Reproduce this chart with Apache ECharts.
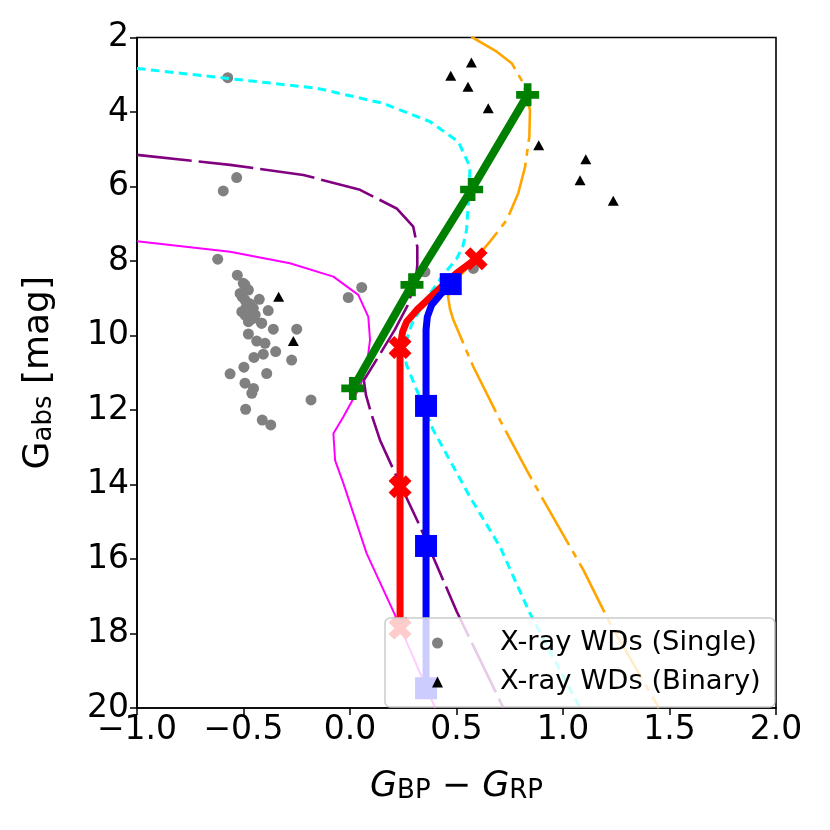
<!DOCTYPE html>
<html>
<head>
<meta charset="utf-8">
<script src="https://cdn.jsdelivr.net/npm/echarts@6/dist/echarts.min.js"></script>
<style>html,body{margin:0;padding:0;background:#fff;}#c{width:830px;height:830px;}</style>
</head>
<body>
<div id="c"></div>
<script>
// ---- data (colour index, absolute G magnitude) ----
const xTicks = [-1.0, -0.5, 0.0, 0.5, 1.0, 1.5, 2.0];
const yTicks = [2, 4, 6, 8, 10, 12, 14, 16, 18, 20];

const singleWDs = [
  [-0.574,3.08],[-0.532,5.76],[-0.595,6.12],
  [-0.621,7.95],[-0.529,8.38],[-0.501,8.60],[-0.482,8.76],[-0.506,8.96],[-0.426,9.03],
  [-0.508,9.36],[-0.384,9.33],[-0.461,9.36],[-0.469,9.58],[-0.415,9.67],[-0.360,9.83],
  [-0.250,9.83],[-0.477,9.96],[-0.438,10.15],[-0.399,10.21],[-0.349,10.43],[-0.407,10.50],
  [-0.451,10.59],[-0.274,10.66],[-0.498,10.85],[-0.563,11.03],[-0.391,11.02],[-0.493,11.28],
  [-0.453,11.42],[-0.461,11.55],[-0.183,11.73],[-0.490,11.98],[-0.412,12.27],[-0.372,12.40],
  [-0.008,8.98],[0.055,8.71],[0.352,8.29],[0.579,8.20],
  [-0.493,8.64],[-0.477,8.78],[-0.516,8.87],[-0.493,9.05],[-0.454,9.27],[-0.493,9.45],
  [-0.454,9.54],[-0.415,9.67],[-0.477,9.63],[-0.470,9.15],[-0.488,9.25],[-0.445,9.45]
];
const binaryWDs = [
  [0.570,2.67],[0.473,3.03],[0.554,3.32],[0.649,3.90],[0.886,4.89],
  [1.107,5.27],[1.080,5.83],[1.236,6.38],[-0.335,8.96],[-0.266,10.15]
];

const greenTrack = [[0.834,3.54],[0.571,6.08],[0.291,8.64],[0.013,11.42]];
const redTrack = [[0.592,7.94],[0.50,8.33],[0.423,8.73],[0.313,9.32],[0.266,9.63],[0.247,9.90],[0.235,10.32],[0.235,14.06],[0.235,17.86]];
const redMarks = [[0.592,7.94],[0.235,10.32],[0.235,14.06],[0.235,17.86]];
const blueTrack = [[0.473,8.62],[0.423,8.91],[0.383,9.18],[0.363,9.50],[0.357,9.85],[0.357,11.89],[0.357,15.65],[0.357,19.47]];
const blueMarks = [[0.473,8.62],[0.357,11.89],[0.357,15.65],[0.357,19.47]];

const magentaCurve = [[-1.0,7.47],[-0.563,7.75],[-0.282,8.06],[-0.078,8.42],[0.039,8.91],[0.086,9.50],[0.094,10.12],[0.078,10.84],[0.047,11.37],[-0.031,12.18],[-0.078,12.63],[-0.070,13.35],[-0.031,13.97],[0.078,15.85],[0.211,17.50],[0.40,20.0]];
const purpleCurve = [[-1.0,5.15],[-0.563,5.42],[-0.219,5.69],[0.047,6.09],[0.219,6.59],[0.297,7.08],[0.316,7.62],[0.316,8.10],[0.310,8.50],[0.270,9.20],[0.210,9.85],[0.130,10.60],[0.065,11.20],[0.075,11.60],[0.100,12.10],[0.141,12.81],[0.219,13.79],[0.329,15.13],[0.501,17.41],[0.72,20.0]];
const cyanCurve = [[-1.0,2.83],[-0.571,3.10],[-0.156,3.36],[0.157,3.77],[0.376,4.26],[0.509,4.80],[0.563,5.47],[0.560,6.09],[0.547,7.17],[0.530,7.60],[0.500,7.95],[0.440,8.35],[0.360,9.00],[0.290,9.70],[0.250,10.40],[0.266,10.80],[0.313,11.46],[0.391,12.54],[0.485,13.52],[0.563,14.33],[0.704,15.67],[0.845,17.46],[1.08,20.0]];
const orangeCurve = [[0.570,1.98],[0.689,2.38],[0.759,2.69],[0.814,3.23],[0.845,3.95],[0.842,4.66],[0.822,5.47],[0.790,6.18],[0.736,6.90],[0.657,7.48],[0.580,8.00],[0.500,8.50],[0.460,8.95],[0.470,9.30],[0.485,9.58],[0.579,10.84],[0.704,12.27],[0.829,13.61],[0.908,14.42],[1.096,16.30],[1.221,17.73],[1.45,20.0]];

const legendNames = ['X-ray WDs (Single)', 'X-ray WDs (Binary)'];

// ---- chart ----
const FONT = 'DejaVu Sans';
const plusPath = 'path://M1,3 L1,1 L3,1 L3,-1 L1,-1 L1,-3 L-1,-3 L-1,-1 L-3,-1 L-3,1 L-1,1 L-1,3 Z';
const xPath = 'path://M-2,4 L0,2 L2,4 L4,2 L2,0 L4,-2 L2,-4 L0,-2 L-2,-4 L-4,-2 L-2,0 L-4,2 Z';
const fmtX = v => (v < 0 ? '\u2212' : '') + Math.abs(v).toFixed(1);

const chart = echarts.init(document.getElementById('c'), null, {renderer: 'canvas'});
const thin = (data, color, width, dash) => ({
  type: 'line', data, showSymbol: false, symbol: 'none', z: 2, silent: true,
  lineStyle: {color, width, type: dash || 'solid', cap: 'butt'}, animation: false
});

chart.setOption({
  animation: false,
  backgroundColor: '#fff',
  grid: {left: 137, right: 54, top: 37.5, bottom: 122, show: true, borderColor: '#000', borderWidth: 1.6, backgroundColor: 'transparent'},
  xAxis: {
    type: 'value', min: xTicks[0], max: xTicks[xTicks.length - 1], interval: 0.5,
    axisLine: {show: true, onZero: false, lineStyle: {color: '#000', width: 1.6}},
    axisTick: {show: true, length: 7, lineStyle: {color: '#000', width: 1.5}},
    axisLabel: {formatter: fmtX, fontSize: 33, fontFamily: FONT, color: '#000', margin: 6},
    splitLine: {show: false},
    name: '{g|G}{s|BP}{t| \u2212 }{g|G}{s|RP}',
    nameLocation: 'middle', nameGap: 52,
    nameTextStyle: {
      rich: {
        g: {fontSize: 35, fontStyle: 'italic', fontFamily: FONT, color: '#000', lineHeight: 44, verticalAlign: 'bottom'},
        s: {fontSize: 26, fontFamily: FONT, color: '#000', lineHeight: 25, verticalAlign: 'bottom'},
        t: {fontSize: 35, fontFamily: FONT, color: '#000', lineHeight: 44, verticalAlign: 'bottom'}
      }
    }
  },
  yAxis: {
    type: 'value', inverse: true, min: yTicks[0], max: yTicks[yTicks.length - 1], interval: 2,
    axisLine: {show: true, onZero: false, lineStyle: {color: '#000', width: 1.6}},
    axisTick: {show: true, length: 7, lineStyle: {color: '#000', width: 1.5}},
    axisLabel: {fontSize: 33, fontFamily: FONT, color: '#000', margin: 8},
    splitLine: {show: false},
    name: '{g|G}{s|abs}{t| [mag]}',
    nameLocation: 'middle', nameGap: 80, nameRotate: 90,
    nameTextStyle: {
      rich: {
        g: {fontSize: 36, fontFamily: FONT, color: '#000', lineHeight: 44, verticalAlign: 'bottom'},
        s: {fontSize: 26, fontFamily: FONT, color: '#000', lineHeight: 30, verticalAlign: 'bottom'},
        t: {fontSize: 36, fontFamily: FONT, color: '#000', lineHeight: 44, verticalAlign: 'bottom'}
      }
    }
  },
  legend: {
    data: [{name: legendNames[0], icon: 'circle'}, {name: legendNames[1], icon: 'triangle'}],
    orient: 'vertical', left: 385, top: 618, z: 10,
    itemWidth: 11, itemHeight: 11, itemGap: 9,
    padding: [10, 14, 10, 47],
    backgroundColor: 'rgba(255,255,255,0.8)', borderColor: '#cccccc', borderWidth: 1.5, borderRadius: 5,
    selectedMode: false,
    textStyle: {fontSize: 27.4, fontFamily: FONT, color: '#000', lineHeight: 30, padding: [0, 0, 0, 52]}
  },
  series: [
    {name: legendNames[0], type: 'scatter', data: singleWDs, symbol: 'circle', symbolSize: 11, z: 1,
     itemStyle: {color: '#808080', opacity: 1}},
    {name: legendNames[1], type: 'scatter', data: binaryWDs, symbol: 'triangle', symbolSize: [11, 10], z: 1,
     itemStyle: {color: '#000000', opacity: 1}},
    thin(magentaCurve, '#ff00ff', 2),
    thin(purpleCurve, '#800080', 2.6, [55, 7]),
    thin(cyanCurve, '#00ffff', 3, [8.5, 5.5]),
    thin(orangeCurve, '#ffa500', 2.6, [55, 7, 7, 7]),
    {type: 'line', data: redTrack, symbol: 'none', z: 3, lineStyle: {color: '#ff0000', width: 7, join: 'round'}},
    {type: 'scatter', data: redMarks, symbol: xPath, symbolSize: 23, z: 3, itemStyle: {color: '#ff0000', opacity: 1}},
    {type: 'line', data: blueTrack, symbol: 'none', z: 4, lineStyle: {color: '#0000ff', width: 7, join: 'round'}},
    {type: 'scatter', data: blueMarks, symbol: 'rect', symbolSize: 22, z: 4, itemStyle: {color: '#0000ff', opacity: 1}},
    {type: 'line', data: greenTrack, symbol: plusPath, symbolSize: 23, showAllSymbol: true, z: 5,
     lineStyle: {color: '#008000', width: 8}, itemStyle: {color: '#008000', opacity: 1}}
  ]
});
</script>
</body>
</html>
